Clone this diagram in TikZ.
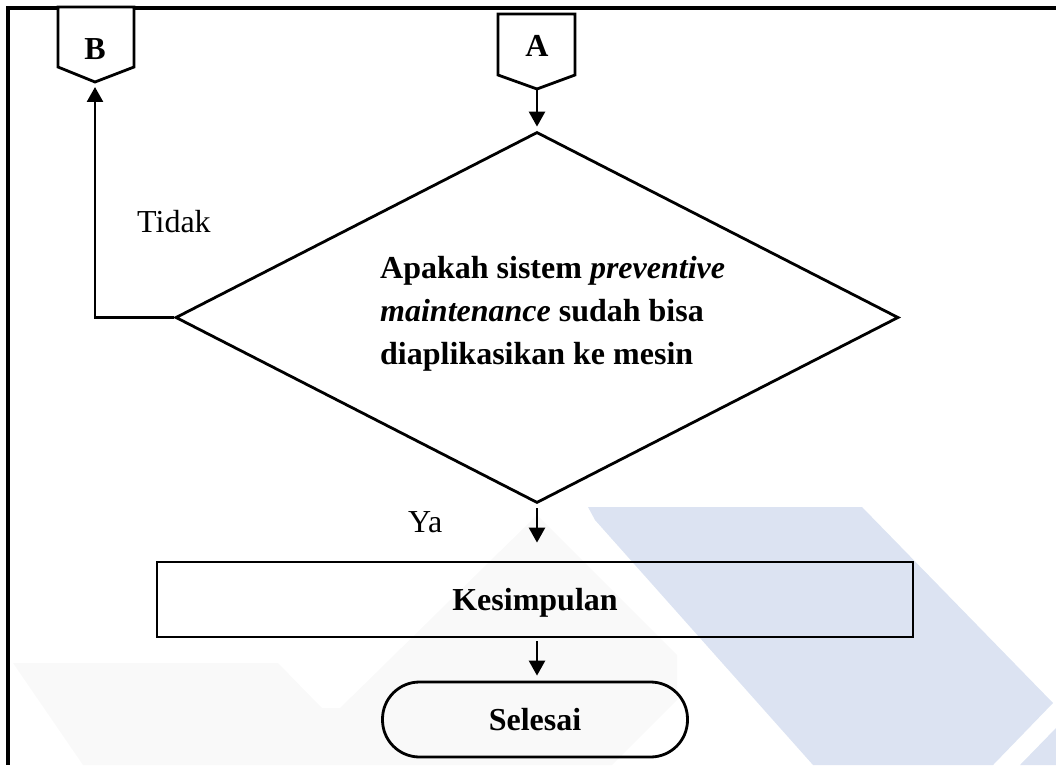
\documentclass[tikz,border=0pt]{standalone}
\usepackage{fontspec}
\setmainfont{Liberation Serif}
\usetikzlibrary{arrows.meta,shapes.geometric}
\definecolor{wmblue}{HTML}{DCE3F2}
\definecolor{wmgrey}{HTML}{F9F9F9}

\begin{document}
\begin{tikzpicture}[x=1pt,y=-1pt,
  txt/.style={font=\fontsize{32}{43}\selectfont, inner sep=0pt},
  btxt/.style={font=\fontsize{32}{43}\selectfont\bfseries, inner sep=0pt},
  outline/.style={draw=black, line width=2.8pt},
  flow/.style={draw=black, line width=2.6pt, -{Triangle[length=15pt,width=16pt]}},
  ]
\useasboundingbox (0,0) rectangle (1056,765);

% faint background marks
\fill[wmgrey] (13,663) -- (278,663) -- (322,708) -- (340,708) -- (537,515)
  -- (677,655) -- (677,700) -- (612,765) -- (83,765) -- cycle;
\fill[wmblue] (588,507) -- (862,507) -- (1053,703) -- (993,765) -- (813,765)
  -- (595,520) -- cycle;
\fill[wmblue] (1056,728) -- (1056,765) -- (1020,765) -- cycle;

% page frame
\draw[line width=3.2pt] (1056,8) -- (8,8) -- (8,765);

% off-page connectors
\draw[outline, fill=white] (58,7) -- (134,7) -- (134,67) -- (95,82) -- (58,67) -- cycle;
\node[btxt] (B) at (95,49) {B};
\coordinate (Btip) at (95,82);

\draw[outline, fill=white] (498,14) -- (575,14) -- (575,75) -- (537,89) -- (498,75) -- cycle;
\node[btxt] (A) at (537,46) {A};
\coordinate (Atip) at (537,89);

% decision
\node[outline, diamond, minimum width=723pt, minimum height=371pt, inner sep=0pt]
  (dec) at (537,317.5) {};
\node[btxt, align=left, anchor=west] (dectext) at (380,314)
  {Apakah sistem \textit{preventive}\\
   \textit{maintenance} sudah bisa\\
   diaplikasikan ke mesin};

% process and terminator
\node[outline, btxt, text depth=0pt, minimum width=756pt, minimum height=75pt]
  (kes) at (535,599.5) {Kesimpulan};
\node[outline, btxt, rounded corners=37pt, minimum width=305pt, minimum height=75pt]
  (end) at (535,719.5) {Selesai};

% branch labels
\node[txt, anchor=base west] (no) at (137,232) {Tidak};
\node[txt, anchor=base west] (yes) at (408,532) {Ya};

% connectors
\draw[flow, shorten >=4pt] (Atip) -- (dec.north);
\draw[flow, shorten <=4pt, shorten >=18pt] (dec.south) -- (dec.south |- kes.north);
\draw[flow, shorten <=3pt, shorten >=5pt] (dec.south |- kes.south) -- (dec.south |- end.north);
\draw[flow, shorten >=5pt] (dec.west) -- (Btip |- dec.west) -- (Btip);
\end{tikzpicture}
\end{document}
